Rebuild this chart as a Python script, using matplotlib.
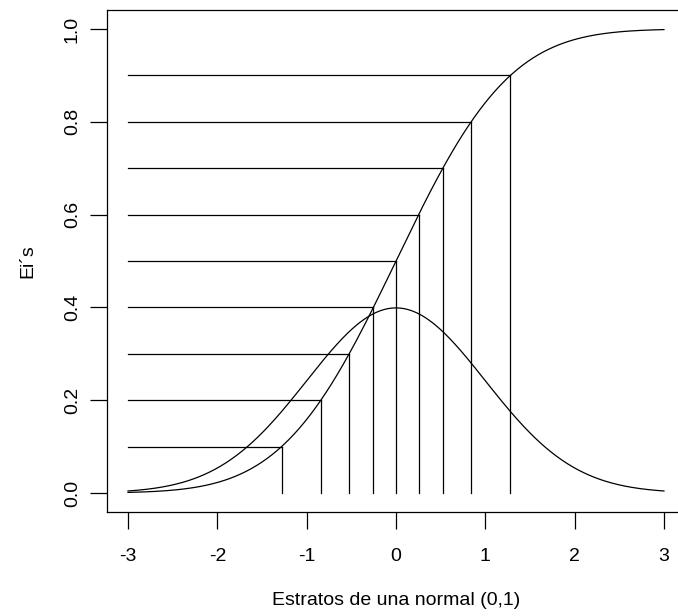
import math

import matplotlib
matplotlib.use("Agg")
import matplotlib.pyplot as plt
import numpy as np


# Probabilidades de los estratos y sus cuantiles en la N(0,1)
PROBS = [0.1, 0.2, 0.3, 0.4, 0.5, 0.6, 0.7, 0.8, 0.9]
QUANTILES = [-1.2816, -0.8416, -0.5244, -0.2533, 0.0, 0.2533, 0.5244, 0.8416, 1.2816]

X_TICKS = [-3, -2, -1, 0, 1, 2, 3]
Y_TICKS = [0.0, 0.2, 0.4, 0.6, 0.8, 1.0]
Y_TICK_LABELS = ["0.0", "0.2", "0.4", "0.6", "0.8", "1.0"]

X_LABEL = "Estratos de una normal (0,1)"
Y_LABEL = "Ei´s"

X_MIN, X_MAX = -3, 3

plt.rcParams["font.family"] = ["Liberation Sans", "DejaVu Sans"]

# Curvas de la normal estándar (densidad y acumulada)
x = np.linspace(X_MIN, X_MAX, 401)
pdf = np.exp(-x ** 2 / 2) / math.sqrt(2 * math.pi)
cdf = np.array([0.5 * (1 + math.erf(v / math.sqrt(2))) for v in x])

W, H = 678, 616
fig = plt.figure(figsize=(W / 100, H / 100), dpi=100)

left, right, top, bottom = 106.6, 685.4, 10.4, 511.6
ax = fig.add_axes([
    left / W,
    (H - bottom) / H,
    (right - left) / W,
    (bottom - top) / H,
])

line_kw = dict(color="black", lw=0.9)

ax.plot(x, cdf, **line_kw)
ax.plot(x, pdf, **line_kw)

for p, q in zip(PROBS, QUANTILES):
    ax.plot([X_MIN, q], [p, p], **line_kw)
    ax.plot([q, q], [0, p], **line_kw)

ax.set_xlim(-3.24, 3.24)
ax.set_ylim(-0.04, 1.04)

ax.set_xticks(X_TICKS)
ax.set_xticklabels([str(t) for t in X_TICKS])
ax.set_yticks(Y_TICKS)
ax.set_yticklabels(Y_TICK_LABELS, rotation=90, va="center")

ax.tick_params(direction="out", length=12, width=0.9, labelsize=14)
ax.tick_params(axis="x", pad=14)
ax.tick_params(axis="y", pad=6.5)
for spine in ax.spines.values():
    spine.set_linewidth(0.9)

ax.set_xlabel(X_LABEL, fontsize=14, labelpad=20)
ax.set_ylabel(Y_LABEL, fontsize=14, labelpad=19.5)

fig.savefig("out.png", dpi=100)
